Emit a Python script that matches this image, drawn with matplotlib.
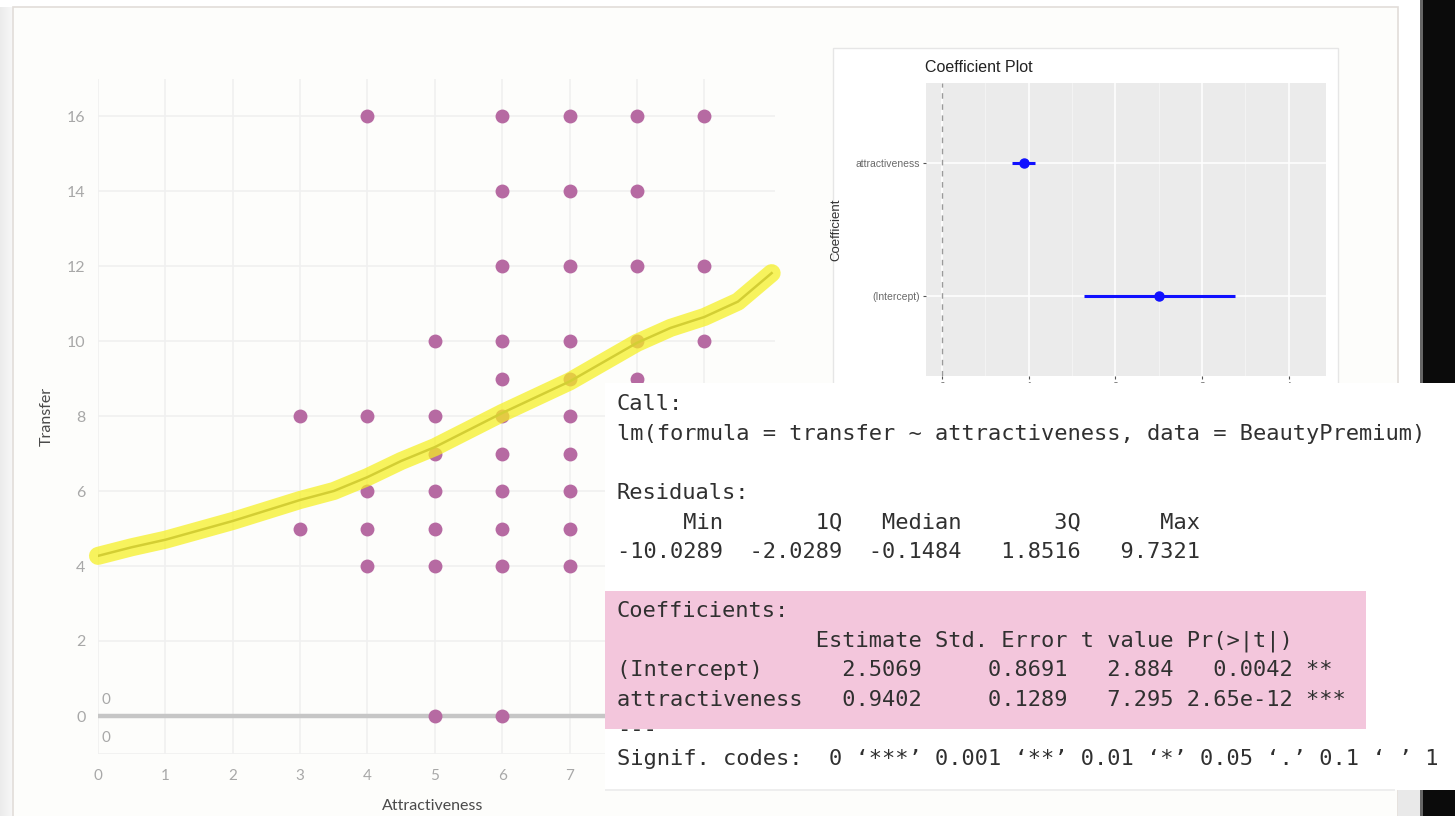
import matplotlib.pyplot as plt
from matplotlib.patches import Rectangle
import numpy as np

W, H = 1455, 816

# scatter: attractiveness vs transfer
attractiveness = [3, 3,
                  4, 4, 4, 4, 4,
                  5, 5, 5, 5, 5, 5, 5,
                  6, 6, 6, 6, 6, 6, 6, 6, 6, 6, 6,
                  7, 7, 7, 7, 7, 7, 7, 7, 7, 7,
                  8, 8, 8, 8, 8,
                  9, 9, 9]
transfer = [8, 5,
            16, 8, 6, 5, 4,
            10, 8, 7, 6, 5, 4, 0,
            16, 14, 12, 10, 9, 8, 7, 6, 5, 4, 0,
            16, 14, 12, 10, 9, 8, 7, 6, 5, 4,
            16, 14, 12, 10, 9,
            16, 12, 10]

# smoothed trend line
trend_x = [0, 0.5, 1, 2, 3, 3.5, 4, 4.5, 5, 6, 7, 8, 8.5, 9, 9.5, 10]
trend_y = [4.27, 4.5, 4.7, 5.2, 5.76, 6.0, 6.37, 6.8, 7.17, 8.08, 8.92, 9.95, 10.35, 10.64, 11.05, 11.81]

# lm(transfer ~ attractiveness)
coef_names = ['(Intercept)', 'attractiveness']
coef_est = [2.5069, 0.9402]
coef_se = [0.8691, 0.1289]
coef_t = [2.884, 7.295]
coef_p = ['0.0042', '2.65e-12']
coef_stars = ['** ', '***']
resid_names = ['Min', '1Q', 'Median', '3Q', 'Max']
resid_vals = [-10.0289, -2.0289, -0.1484, 1.8516, 9.7321]

fig = plt.figure(figsize=(W / 100, H / 100), dpi=100)


def px_axes(x0, y0, x1, y1, z):
    a = fig.add_axes([x0 / W, 1 - y1 / H, (x1 - x0) / W, (y1 - y0) / H])
    a.set_zorder(z)
    return a


def full_axes(z):
    a = px_axes(0, 0, W, H, z)
    a.set_xlim(0, W)
    a.set_ylim(H, 0)
    a.axis('off')
    a.patch.set_alpha(0)
    return a


# background: page, card, dark strip on the right
bg = full_axes(0)
bg.add_patch(Rectangle((0, 0), W, H, color='white'))
for i, c in enumerate(np.linspace(0.92, 0.97, 13)):
    bg.add_patch(Rectangle((i, 7), 1, H, color=str(c), lw=0))
bg.add_patch(Rectangle((13, 7), 1385, H, facecolor='#fdfdfb', edgecolor='#e2ddd9', lw=1.2))
bg.add_patch(Rectangle((1398, 790), 24, 30, color='#e9e9e9', lw=0))
bg.add_patch(Rectangle((1422, 0), 40, H, color='#0b0b0b', lw=0))
bg.add_patch(Rectangle((1420, 0), 3, H, color='#666666', lw=0))

# main scatter plot
ax = px_axes(98, 78.5, 775, 753.5, 1)
ax.patch.set_alpha(0)
ax.set_xlim(0, 10.05)
ax.set_ylim(-1, 17)
ax.set_xticks(range(0, 10))
ax.set_yticks(range(0, 17, 2))
ax.grid(True, color='#f0f0f0', lw=1.2)
ax.axhline(-1, color='#f0f0f0', lw=1.2)
ax.set_axisbelow(True)
for s in ax.spines.values():
    s.set_visible(False)
ax.tick_params(axis='y', length=0, labelsize=11.5, labelcolor='#a8a8a8', pad=9)
ax.tick_params(axis='x', length=0, labelsize=11, labelcolor='#a8a8a8', pad=11)
for lab in ax.get_xticklabels() + ax.get_yticklabels():
    lab.set_family('Lato')
ax.set_xlabel('Attractiveness', fontsize=11.5, color='#4a4a4a', family='Lato')
ax.set_ylabel('Transfer', fontsize=11.5, color='#4a4a4a', family='Lato')
ax.xaxis.set_label_coords(0.495, -0.068)
ax.yaxis.set_label_coords(-0.066, 0.5)
ax.axhline(0, color='#c6c6c6', lw=3.2, zorder=2)
ax.text(0.05, 0.33, '0', fontsize=11, color='#a8a8a8', family='Lato')
ax.text(0.05, -0.7, '0', fontsize=11, color='#a8a8a8', family='Lato')
ax.scatter(attractiveness, transfer, s=100, color='#b66aa2', lw=0, zorder=3)
ax.plot(trend_x, trend_y, color='#7a7a6a', lw=1.8, zorder=4)
ax.plot(trend_x, trend_y, color='#f6f020', alpha=0.72, lw=13,
        solid_capstyle='round', solid_joinstyle='round', zorder=5, clip_on=False)

# coefficient plot card
mid = full_axes(2)
mid.add_patch(Rectangle((833, 48), 505, 340, facecolor='white', edgecolor='#e6e6e6', lw=1))
mid.text(925, 68, 'Coefficient Plot', fontsize=11.5, color='#222222',
         family='Liberation Sans', va='center', ha='left')

cax = px_axes(926, 83, 1326, 376, 3)
cax.set_facecolor('#ebebeb')
cax.set_xlim(-0.185, 4.43)
cax.set_ylim(0.4, 2.6)
cax.set_xticks(range(0, 5))
cax.set_xticks(np.arange(0.5, 4.5, 1), minor=True)
cax.set_yticks([1, 2])
cax.set_yticklabels(coef_names)
cax.grid(True, which='major', color='white', lw=1.1)
cax.grid(True, which='minor', axis='x', color='#f5f5f5', lw=0.6)
cax.set_axisbelow(True)
for s in cax.spines.values():
    s.set_visible(False)
cax.tick_params(which='major', length=2.5, color='#555555', labelsize=7.5,
                labelcolor='#6a6a6a', pad=2)
cax.tick_params(which='minor', length=0)
for lab in cax.get_xticklabels() + cax.get_yticklabels():
    lab.set_family('Liberation Sans')
cax.set_ylabel('Coefficient', fontsize=9.5, color='#333333', family='Liberation Sans')
cax.yaxis.set_label_coords(-0.21, 0.5)
cax.axvline(0, color='#9a9a9a', lw=1, dashes=(4, 4))
pos = np.arange(1, len(coef_est) + 1)
est = np.array(coef_est)
se = np.array(coef_se)
cax.hlines(pos, est - se, est + se, color='#1010ff', lw=2.2, zorder=3)
cax.plot(est, pos, 'o', color='#1010ff', ms=6.5, zorder=4)

# console output panel
top = full_axes(4)
top.add_patch(Rectangle((605, 383), 850, 407, color='white', lw=0, zorder=1))
top.add_patch(Rectangle((605, 789), 790, 2, color='#eeeeee', lw=0, zorder=1))
top.add_patch(Rectangle((605, 591), 761, 138, color='#f3c6dc', lw=0, zorder=3))

resid_head = ' '.join(n.rjust(8) for n in resid_names)
resid_line = ' '.join(f'{v:8.4f}' for v in resid_vals)
coef_head = ' ' * 14 + ' Estimate Std. Error t value Pr(>|t|)'
coef_rows = [f'{n:<14} {e:8.4f} {s:10.4f} {t:7.3f} {p:>8} {st}'
             for n, e, s, t, p, st in zip(coef_names, coef_est, coef_se, coef_t, coef_p, coef_stars)]

lines = ['Call:',
         'lm(formula = transfer ~ attractiveness, data = BeautyPremium)',
         '',
         'Residuals:',
         resid_head,
         resid_line,
         '',
         'Coefficients:',
         coef_head] + coef_rows + [
         '---',
         'Signif. codes:  0 \u2018***\u2019 0.001 \u2018**\u2019 0.01 \u2018*\u2019 0.05 \u2018.\u2019 0.1 \u2018 \u2019 1']

y0, step = 402, 29.6
for i, line in enumerate(lines):
    if not line:
        continue
    z = 2 if line == '---' else 4
    top.text(617, y0 + i * step + 8, line, family='DejaVu Sans Mono', fontsize=15.8,
             color='#303030', va='baseline', ha='left', zorder=z)

fig.savefig('out.png', dpi=100)
